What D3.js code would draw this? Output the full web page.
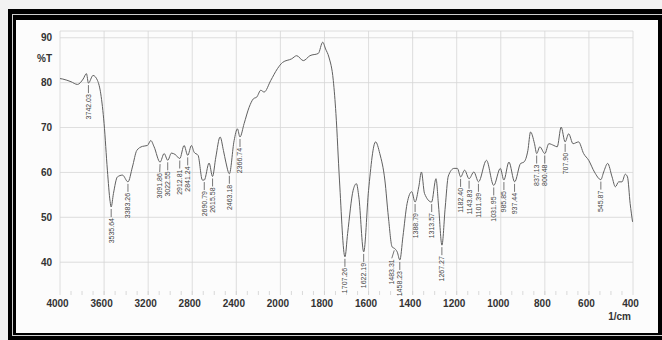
<!DOCTYPE html>
<html lang="en">
<head>
    <meta charset="UTF-8">
    <title>IR Spectrum</title>
    <script src="https://cdnjs.cloudflare.com/ajax/libs/d3/7.8.5/d3.min.js"></script>
    <style>
        body { margin: 0; background: #fff; }
        text { font-family: Arial, 'Liberation Sans', sans-serif; }
        .tick-label { font-size: 10px; font-weight: bold; fill: #333; }
        .peak-label { font-size: 7px; fill: #444; }
    </style>
</head>
<body>
    <div id="chart"></div>
    <script>
        // spectrum
        const wavenumbers = [
            4000, 3975, 3900, 3842, 3790, 3760, 3742, 3700, 3660, 3630, 3600, 3570, 3545, 3536, 3515,
            3479, 3433, 3383, 3343, 3303, 3252, 3207, 3176, 3146, 3092, 3055, 3022, 2989, 2955, 2913,
            2874, 2841, 2807, 2783, 2747, 2708, 2691, 2647, 2616, 2586, 2547, 2517, 2495, 2463, 2420,
            2390, 2367, 2329, 2284, 2245, 2214, 2178, 2148, 2087, 2027, 1990, 1949, 1926, 1896, 1866,
            1828, 1808, 1795, 1780, 1760, 1748, 1732, 1707, 1695, 1670, 1655, 1644, 1622, 1600, 1568,
            1549, 1526, 1510, 1493, 1483, 1470, 1458, 1444, 1425, 1404, 1389, 1372, 1360, 1346, 1314,
            1294, 1282, 1267, 1252, 1238, 1212, 1197, 1182, 1164, 1144, 1122, 1101, 1065, 1032, 1002,
            986, 963, 937, 910, 895, 877, 865, 847, 837, 823, 800, 782, 759, 744, 726,
            708, 692, 672, 647, 624, 601, 575, 546, 533, 515, 495, 480, 465, 450, 435,
            425, 413, 402
        ];
        const transmittance = [
            80.9, 80.8, 80.2, 79.6, 80.8, 82.0, 79.9, 81.6, 80.5, 77.5, 70.9, 60.5, 53.5, 52.3, 55.3,
            59.0, 59.4, 57.9, 61.2, 64.9, 65.8, 66.0, 67.1, 65.7, 62.3, 64.2, 62.7, 64.3, 64.0, 63.1,
            66.0, 63.8, 66.0, 64.5, 63.8, 58.3, 58.3, 62.1, 59.1, 63.4, 67.9, 64.9, 62.3, 59.7, 67.1,
            69.7, 67.9, 70.9, 74.5, 76.4, 76.8, 78.3, 77.9, 80.5, 83.1, 84.5, 85.3, 86.0, 84.9, 86.0,
            86.5, 89.0, 87.5, 85.7, 80.5, 73.1, 58.3, 41.2, 46.4, 56.0, 57.5, 54.5, 42.3, 56.0, 66.8,
            64.2, 58.3, 50.1, 43.4, 43.1, 42.3, 40.5, 45.7, 53.1, 55.7, 53.4, 56.8, 60.1, 55.3, 53.4,
            58.6, 52.3, 43.8, 52.3, 59.2, 60.9, 60.9, 59.0, 60.5, 58.6, 60.1, 57.9, 62.7, 57.1, 60.9,
            58.3, 62.3, 57.9, 62.0, 62.3, 64.9, 69.0, 66.4, 64.2, 65.7, 64.2, 66.4, 66.0, 65.7, 70.1,
            66.8, 68.6, 66.4, 66.8, 64.2, 62.7, 60.1, 58.4, 60.1, 62.0, 59.0, 56.8, 57.9, 57.9, 59.6,
            59.0, 53.1, 49.0
        ];

        // peak annotations
        const peakWn = [3742.03, 3535.64, 3383.26, 3091.86, 3022.55, 2912.81, 2841.24, 2690.79, 2615.58,
            2463.18, 2366.74, 1707.26, 1622.19, 1483.31, 1458.23, 1388.79, 1313.57, 1267.27, 1182.40,
            1143.83, 1101.39, 1031.95, 985.85, 937.44, 837.13, 800.48, 707.90, 545.87];
        const peakT = [79.9, 52.3, 57.9, 62.3, 62.7, 63.1, 63.8, 58.3, 59.1,
            59.7, 67.9, 41.2, 42.3, 43.1, 40.5, 53.4, 53.4, 43.8, 59.0,
            58.6, 57.9, 57.1, 58.3, 57.9, 64.2, 64.2, 66.8, 58.4];

        const xTicks = [4000, 3600, 3200, 2800, 2400, 2000, 1800, 1600, 1400, 1200, 1000, 800, 600, 400];
        const yTicks = [90, 80, 70, 60, 50, 40];

        const W = 662, H = 340;
        const plot = {left: 60, right: 633, top: 31, bottom: 295};

        const svg = d3.select("#chart").append("svg")
            .attr("width", W)
            .attr("height", H);

        // scanned page frame
        svg.append("rect").attr("width", W).attr("height", H).attr("fill", "#f2f2f2");
        svg.append("rect").attr("x", 8).attr("y", 9).attr("width", W - 8).attr("height", H - 9).attr("fill", "#000");
        svg.append("rect").attr("x", 12.5).attr("y", 14.5).attr("width", 660).attr("height", 321)
            .attr("fill", "none").attr("stroke", "#cfcfcf").attr("stroke-width", 1);
        svg.append("rect").attr("x", 16).attr("y", 20).attr("width", 642).attr("height", 313).attr("fill", "#fcfcfc");

        // chart uses a half-scale above 2000 1/cm
        const x = d3.scaleLinear().domain([4000, 2000, 400]).range([plot.left, 280.4, plot.right]);
        const y = d3.scaleLinear().domain([32.7, 91.5]).range([plot.bottom, plot.top]);

        // grid
        const grid = svg.append("g").attr("stroke", "#d6d6d6").attr("stroke-width", 0.8);
        grid.selectAll(".vg").data(xTicks).join("line")
            .attr("x1", d => x(d)).attr("x2", d => x(d))
            .attr("y1", plot.top).attr("y2", plot.bottom);
        grid.selectAll(".hg").data(yTicks).join("line")
            .attr("x1", plot.left).attr("x2", plot.right)
            .attr("y1", d => y(d)).attr("y2", d => y(d));
        grid.append("line")
            .attr("x1", plot.left).attr("x2", plot.right)
            .attr("y1", plot.top).attr("y2", plot.top);

        // minor ticks along the bottom
        const minor = d3.range(3900, 2000, -100).concat(d3.range(1950, 400, -50));
        svg.append("g").selectAll("line").data(minor).join("line")
            .attr("x1", d => x(d)).attr("x2", d => x(d))
            .attr("y1", plot.bottom - 4).attr("y2", plot.bottom)
            .attr("stroke", "#d0d0d0").attr("stroke-width", 0.8);

        // axes labels
        const xAxis = svg.append("g")
            .attr("transform", `translate(-3,${plot.bottom})`)
            .call(d3.axisBottom(x).tickValues(xTicks).tickSize(0).tickPadding(5).tickFormat(d3.format("d")));
        xAxis.select(".domain").remove();
        xAxis.selectAll("text").attr("class", "tick-label");

        const yAxis = svg.append("g")
            .attr("transform", `translate(${plot.left},0)`)
            .call(d3.axisLeft(y).tickValues(yTicks).tickSize(0).tickPadding(8));
        yAxis.select(".domain").remove();
        yAxis.selectAll("text").attr("class", "tick-label");

        svg.append("text").attr("class", "tick-label")
            .attr("x", 52).attr("y", 62).attr("text-anchor", "end").text("%T");
        svg.append("text").attr("class", "tick-label")
            .attr("x", 631).attr("y", 320).attr("text-anchor", "end").text("1/cm");

        // spectrum line
        const data = wavenumbers.map((w, i) => ({w, t: transmittance[i]}));
        const line = d3.line()
            .x(d => x(d.w))
            .y(d => y(d.t))
            .curve(d3.curveMonotoneX);

        svg.append("path")
            .datum(data)
            .attr("fill", "none")
            .attr("stroke", "#606060")
            .attr("stroke-width", 1)
            .attr("d", line);

        // peak labels; push a label left when it would collide with the next one
        const peaks = peakWn.map((w, i) => ({w, t: peakT[i], px: x(w)}));
        for (let i = peaks.length - 2; i >= 0; i--) {
            const gap = peaks[i + 1].px - peaks[i].px;
            if (gap < 8) peaks[i].px -= 8 - gap;
        }
        const pg = svg.append("g").selectAll("g").data(peaks).join("g");
        pg.append("path")
            .attr("d", d => `M${x(d.w)},${y(d.t) + 2}L${d.px},${y(d.t) + 10}`)
            .attr("fill", "none")
            .attr("stroke", "#555").attr("stroke-width", 0.8);
        pg.append("text")
            .attr("class", "peak-label")
            .attr("text-anchor", "end")
            .attr("dy", "0.35em")
            .attr("transform", d => `translate(${d.px},${y(d.t) + 11}) rotate(-90)`)
            .text(d => d3.format(".2f")(d.w));
    </script>
</body>
</html>
